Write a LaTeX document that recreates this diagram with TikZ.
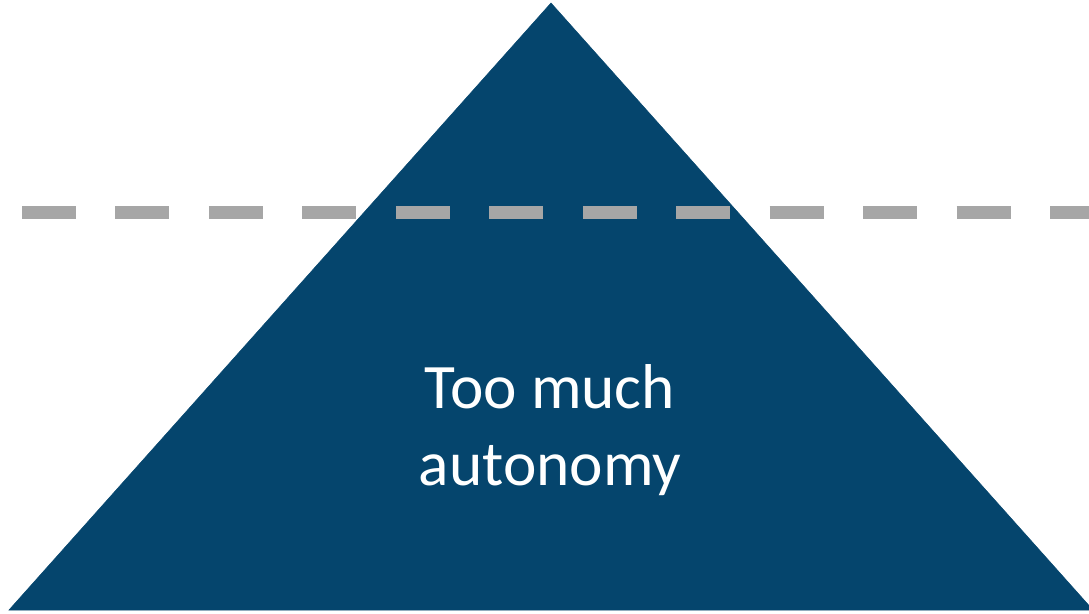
\documentclass[tikz,border=0pt]{standalone}
\usepackage{fontspec}
\setmainfont{Carlito}
\definecolor{pyramidblue}{HTML}{05456D}
\definecolor{dashgray}{HTML}{A6A6A6}
\begin{document}
\begin{tikzpicture}[x=0.75pt,y=-0.75pt,
  levelline/.style={dashgray,line width=9.75pt,dash pattern=on 40.5pt off 29.6pt},
  pyramidtext/.style={text=white,align=center,inner sep=0pt,font=\fontsize{47.5}{57.75}\selectfont}]
\useasboundingbox (0,0) rectangle (1089,614);
\filldraw[pyramidblue] (551,3)--(1093,610)--(9,610)--cycle;
\coordinate (lineleft) at (22,212);
\coordinate (lineright) at (1120,212);
\draw[levelline] (lineleft)--(lineright);
\node[pyramidtext,anchor=base] (autonomy) at (550,485) {Too much\\autonomy};
\end{tikzpicture}
\end{document}
